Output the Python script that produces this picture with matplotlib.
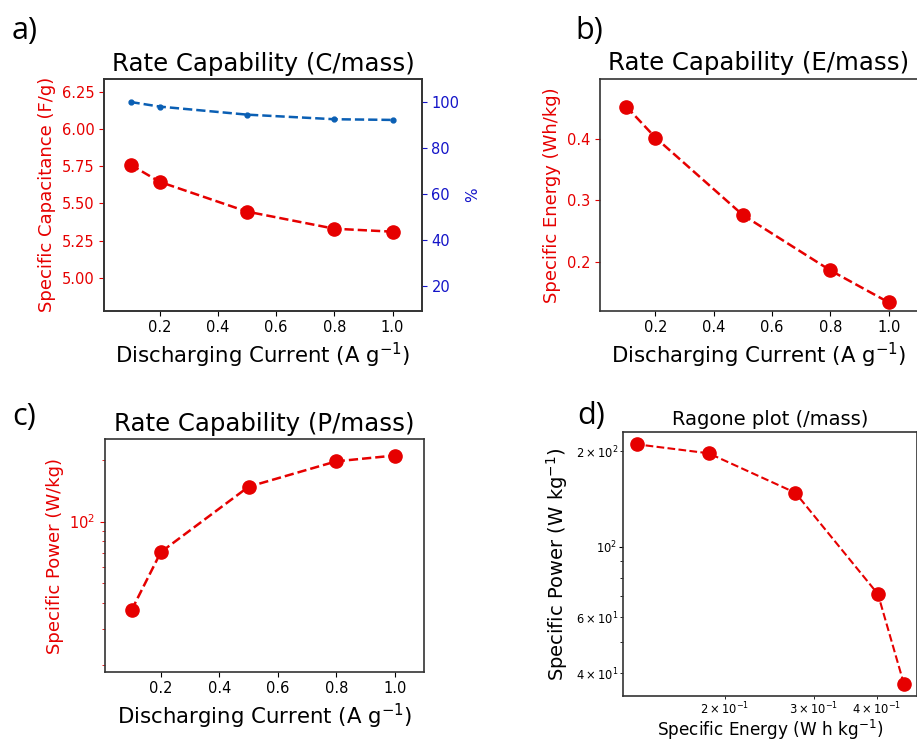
import matplotlib
matplotlib.use("Agg")
import matplotlib.pyplot as plt
import numpy as np

# ---- data ----
current = [0.1, 0.2, 0.5, 0.8, 1.0]               # A g^-1
capacitance = [5.76, 5.645, 5.445, 5.33, 5.31]     # F/g
retention = [100.0, 98.0, 94.5, 92.5, 92.2]        # %
energy = [0.4525, 0.402, 0.276, 0.186, 0.134]      # Wh/kg
power = [37.0, 71.0, 148.0, 197.0, 210.3]          # W/kg

RED = "#e60000"
BLUE_LINE = "#0a5fb4"
BLUE_TXT = "#1414c8"

W, H = 917, 742
fig = plt.figure(figsize=(W / 100, H / 100), dpi=100)

def box(l, r, t, b):
    return [l / W, 1 - b / H, (r - l) / W, (b - t) / H]

TICK = 10.5
LAB = 15.3
TTL = 17.6
MS = 9.5

def style(ax):
    for s in ax.spines.values():
        s.set_color("#333333")
        s.set_linewidth(1.2)

# ---- a) ----
ax = fig.add_axes(box(104.3, 421.7, 79, 310.7))
ax.plot(current, capacitance, "--o", color=RED, ms=MS, lw=1.8)
ax.set_xlim(min(current) * 0.1, max(current) * 1.1)
ax.set_ylim(min(capacitance) * 0.9, max(capacitance) * 1.1)
ax.set_ylabel("Specific Capacitance (F/g)", color=RED, fontsize=13)
ax.set_xlabel("Discharging Current (A g$^{-1}$)", fontsize=LAB)
ax.set_title("Rate Capability (C/mass)", fontsize=TTL)
ax.tick_params(axis="y", colors=RED, labelsize=TICK)
ax.tick_params(axis="x", labelsize=TICK)
ax.set_xticks([0.2, 0.4, 0.6, 0.8, 1.0])
style(ax)
ax2 = ax.twinx()
ax2.plot(current, retention, "--o", color=BLUE_LINE, ms=3.5, lw=1.8)
ax2.set_ylim(min(retention) * 0.1, max(retention) * 1.1)
ax2.set_ylabel("%", color=BLUE_TXT, fontsize=11)
ax2.tick_params(axis="y", colors=BLUE_TXT, labelsize=TICK)
ax2.set_yticks([20, 40, 60, 80, 100])
style(ax2)

# ---- b) ----
ax = fig.add_axes(box(600, 918, 78.7, 310.7))
ax.plot(current, energy, "--o", color=RED, ms=MS, lw=1.8)
ax.set_xlim(min(current) * 0.1, max(current) * 1.1)
ax.set_ylim(min(energy) * 0.9, max(energy) * 1.1)
ax.set_ylabel("Specific Energy (Wh/kg)", color=RED, fontsize=13)
ax.set_xlabel("Discharging Current (A g$^{-1}$)", fontsize=LAB)
ax.set_title("Rate Capability (E/mass)", fontsize=TTL)
ax.tick_params(axis="y", colors=RED, labelsize=TICK)
ax.tick_params(axis="x", labelsize=TICK)
ax.set_xticks([0.2, 0.4, 0.6, 0.8, 1.0])
ax.set_yticks([0.2, 0.3, 0.4])
style(ax)

# ---- c) ----
ax = fig.add_axes(box(105.3, 424, 439.3, 671.7))
ax.plot(current, power, "--o", color=RED, ms=MS, lw=1.8)
ax.set_yscale("log")
ax.set_xlim(min(current) * 0.1, max(current) * 1.1)
ax.set_ylim(min(power) * 0.5, max(power) * 1.2)
ax.set_ylabel("Specific Power (W/kg)", color=RED, fontsize=13)
ax.set_xlabel("Discharging Current (A g$^{-1}$)", fontsize=LAB)
ax.set_title("Rate Capability (P/mass)", fontsize=TTL)
ax.tick_params(axis="y", which="both", colors=RED, labelsize=TICK)
ax.tick_params(axis="x", labelsize=TICK)
ax.set_xticks([0.2, 0.4, 0.6, 0.8, 1.0])
style(ax)

# ---- d) ----
ax = fig.add_axes(box(623.3, 917.3, 432.3, 696))
ax.plot(energy, power, "--o", color=RED, ms=MS, lw=1.5)
ax.set_xscale("log")
ax.set_yscale("log")
ax.set_ylabel("Specific Power (W kg$^{-1}$)", fontsize=14)
ax.set_xlabel("Specific Energy (W h kg$^{-1}$)", fontsize=12.2, labelpad=0)
ax.set_title("Ragone plot (/mass)", fontsize=14, pad=5)
ax.tick_params(axis="both", which="both", labelsize=8.3, pad=1.5)
ax.tick_params(axis="both", which="major", length=3)
ax.tick_params(axis="both", which="minor", length=2)
style(ax)

# ---- panel letters ----
for txt, x, y in [("a)", 12, 39), ("b)", 575, 39), ("c)", 12, 425), ("d)", 577, 424)]:
    fig.text(x / W, 1 - y / H, txt, fontsize=22, family="Open Sans", va="baseline")

fig.savefig("out.png", dpi=100)
